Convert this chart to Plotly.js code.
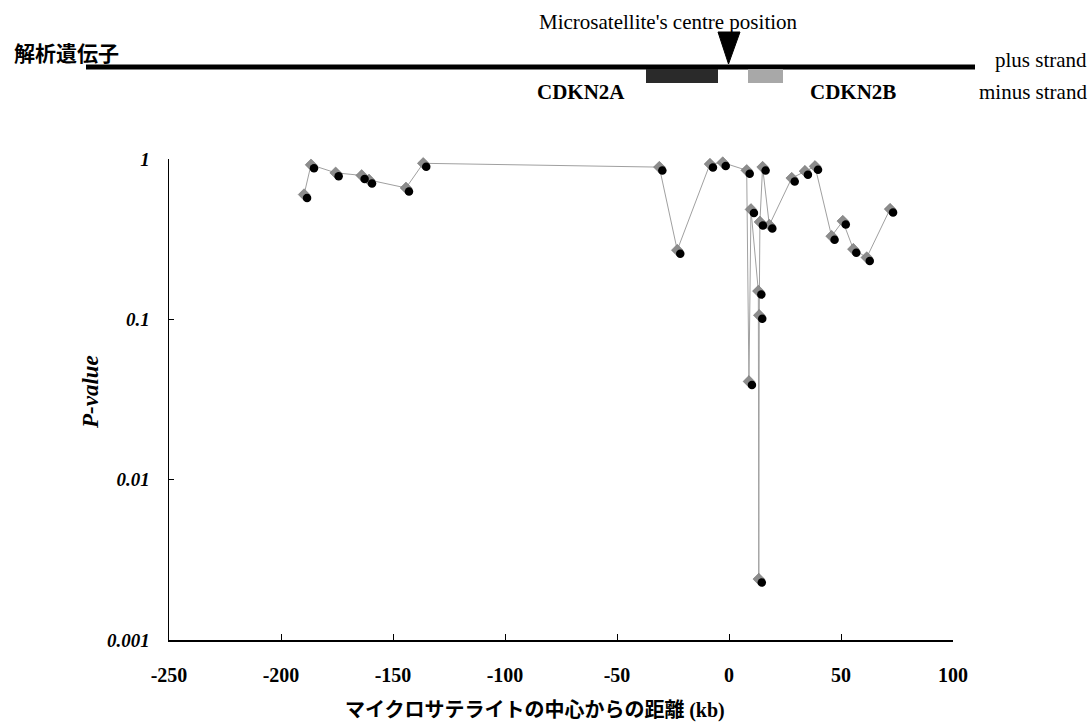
<!DOCTYPE html>
<html>
<head>
<meta charset="utf-8">
<script src="https://cdn.plot.ly/plotly-3.0.1.min.js"></script>
<style>html,body{margin:0;padding:0;background:#fff;}#chart{width:1092px;height:725px;}</style>
</head>
<body>
<div id="chart"></div>
<script>
// Distance from microsatellite centre (kb)
const distanceKb = [-189.7, -186.6, -175.6, -164.0, -160.7, -144.2, -136.5,
  -31.1, -23.1, -8.5, -2.8, 7.9, 8.9, 9.8, 13.1, 13.3, 13.5, 13.8, 15.0, 18.0,
  28.0, 33.9, 38.4, 45.8, 50.8, 55.5, 61.5, 71.9];
// P-values
const pValues = [0.60, 0.92, 0.82, 0.79, 0.74, 0.66, 0.94,
  0.89, 0.27, 0.93, 0.95, 0.85, 0.041, 0.485, 0.150, 0.0024, 0.106, 0.405, 0.89, 0.387,
  0.76, 0.84, 0.90, 0.33, 0.41, 0.274, 0.243, 0.487];

const xTickVals = [-250, -200, -150, -100, -50, 0, 50, 100];
const yTickVals = [0.001, 0.01, 0.1, 1];
const yTickText = ['0.001', '0.01', '0.1', '1'];

const serif = 'Liberation Serif, Times New Roman, serif';
const cjk = 'Noto Sans CJK JP, sans-serif';

const xRange = [-250, 100];
const yRange = [-3, 0];
// shadow offset in pixels for the black circle markers
const plotW = 784, plotH = 481;
const shiftX = 3 * (xRange[1] - xRange[0]) / plotW;
const shiftY = 3.5 * (yRange[1] - yRange[0]) / plotH;

const traces = [
  {
    x: distanceKb, y: pValues, type: 'scatter', mode: 'lines+markers',
    line: {color: '#a0a0a0', width: 1},
    marker: {symbol: 'diamond', size: 9, color: '#8c8c8c', line: {color: '#6a6a6a', width: 0.5}},
    cliponaxis: false, showlegend: false, hoverinfo: 'x+y'
  },
  {
    x: distanceKb, y: pValues, type: 'scatter', mode: 'markers',
    xaxis: 'x2', yaxis: 'y2',
    marker: {symbol: 'circle', size: 8.5, color: '#000'},
    cliponaxis: false, showlegend: false, hoverinfo: 'skip'
  }
];

function px(v){ return (v - 169) / plotW; }
function py(v){ return (640 - v) / plotH; }

const layout = {
  width: 1092, height: 725,
  margin: {l: 169, r: 139, t: 159, b: 85},
  paper_bgcolor: '#fff', plot_bgcolor: '#fff',
  showlegend: false,
  xaxis: {
    range: xRange, tickvals: xTickVals, ticktext: xTickVals.map(String),
    showgrid: false, zeroline: false, showline: true, linecolor: '#000', linewidth: 1.5,
    ticks: 'inside', ticklen: 6, tickcolor: '#000', tickwidth: 1,
    ticklabelstandoff: 16,
    tickfont: {family: serif, size: 20, color: '#000', weight: 'bold'}
  },
  yaxis: {
    type: 'log', range: yRange, tickvals: yTickVals, ticktext: yTickText,
    showgrid: false, zeroline: false, showline: true, linecolor: '#000', linewidth: 1.5,
    ticks: 'inside', ticklen: 5, tickcolor: '#000', tickwidth: 1,
    ticklabelstandoff: 14,
    tickfont: {family: serif, size: 19, color: '#000', weight: 'bold', style: 'italic'}
  },
  xaxis2: {overlaying: 'x', range: [xRange[0] - shiftX, xRange[1] - shiftX], visible: false},
  yaxis2: {overlaying: 'y', type: 'log', range: [yRange[0] + shiftY, yRange[1] + shiftY], visible: false},
  shapes: [
    {type: 'line', xref: 'paper', yref: 'paper', x0: px(86), x1: px(975), y0: py(67), y1: py(67),
      line: {color: '#000', width: 5}},
    {type: 'path', xref: 'paper', yref: 'paper',
      path: 'M ' + px(718) + ' ' + py(32) + ' L ' + px(740) + ' ' + py(32) + ' L ' + px(728.5) + ' ' + py(64) + ' Z',
      fillcolor: '#000', line: {color: '#000', width: 1}},
    {type: 'rect', xref: 'paper', yref: 'paper', x0: px(646), x1: px(718), y0: py(83), y1: py(69),
      fillcolor: '#2a2a2a', line: {width: 0}},
    {type: 'rect', xref: 'paper', yref: 'paper', x0: px(748), x1: px(783), y0: py(83), y1: py(69),
      fillcolor: '#a8a8a8', line: {width: 0}}
  ],
  annotations: [
    {text: "Microsatellite's centre position", xref: 'paper', yref: 'paper', x: px(668), y: py(22),
      xanchor: 'center', yanchor: 'middle', showarrow: false,
      font: {family: serif, size: 21, color: '#000'}},
    {text: '解析遺伝子', xref: 'paper', yref: 'paper', x: px(12), y: py(52),
      xanchor: 'left', yanchor: 'middle', showarrow: false,
      font: {family: cjk, size: 21, color: '#000', weight: 'bold'}},
    {text: 'plus strand', xref: 'paper', yref: 'paper', x: px(1089), y: py(60),
      xanchor: 'right', yanchor: 'middle', showarrow: false,
      font: {family: serif, size: 21, color: '#000'}},
    {text: 'minus strand', xref: 'paper', yref: 'paper', x: px(1089), y: py(92),
      xanchor: 'right', yanchor: 'middle', showarrow: false,
      font: {family: serif, size: 21, color: '#000'}},
    {text: 'CDKN2A', xref: 'paper', yref: 'paper', x: px(581), y: py(92),
      xanchor: 'center', yanchor: 'middle', showarrow: false,
      font: {family: serif, size: 21, color: '#000', weight: 'bold'}},
    {text: 'CDKN2B', xref: 'paper', yref: 'paper', x: px(853), y: py(92),
      xanchor: 'center', yanchor: 'middle', showarrow: false,
      font: {family: serif, size: 21, color: '#000', weight: 'bold'}},
    {text: 'P-value', xref: 'paper', yref: 'paper', x: px(90), y: py(392),
      xanchor: 'center', yanchor: 'middle', showarrow: false, textangle: -90,
      font: {family: serif, size: 23, color: '#000', weight: 'bold', style: 'italic'}},
    {text: 'マイクロサテライトの中心からの距離 <span style="font-family:Liberation Serif">(kb)</span>',
      xref: 'paper', yref: 'paper', x: px(535), y: py(708),
      xanchor: 'center', yanchor: 'middle', showarrow: false,
      font: {family: cjk, size: 20, color: '#000', weight: 'bold'}}
  ]
};

Plotly.newPlot('chart', traces, layout, {displayModeBar: false, staticPlot: true});
</script>
</body>
</html>
